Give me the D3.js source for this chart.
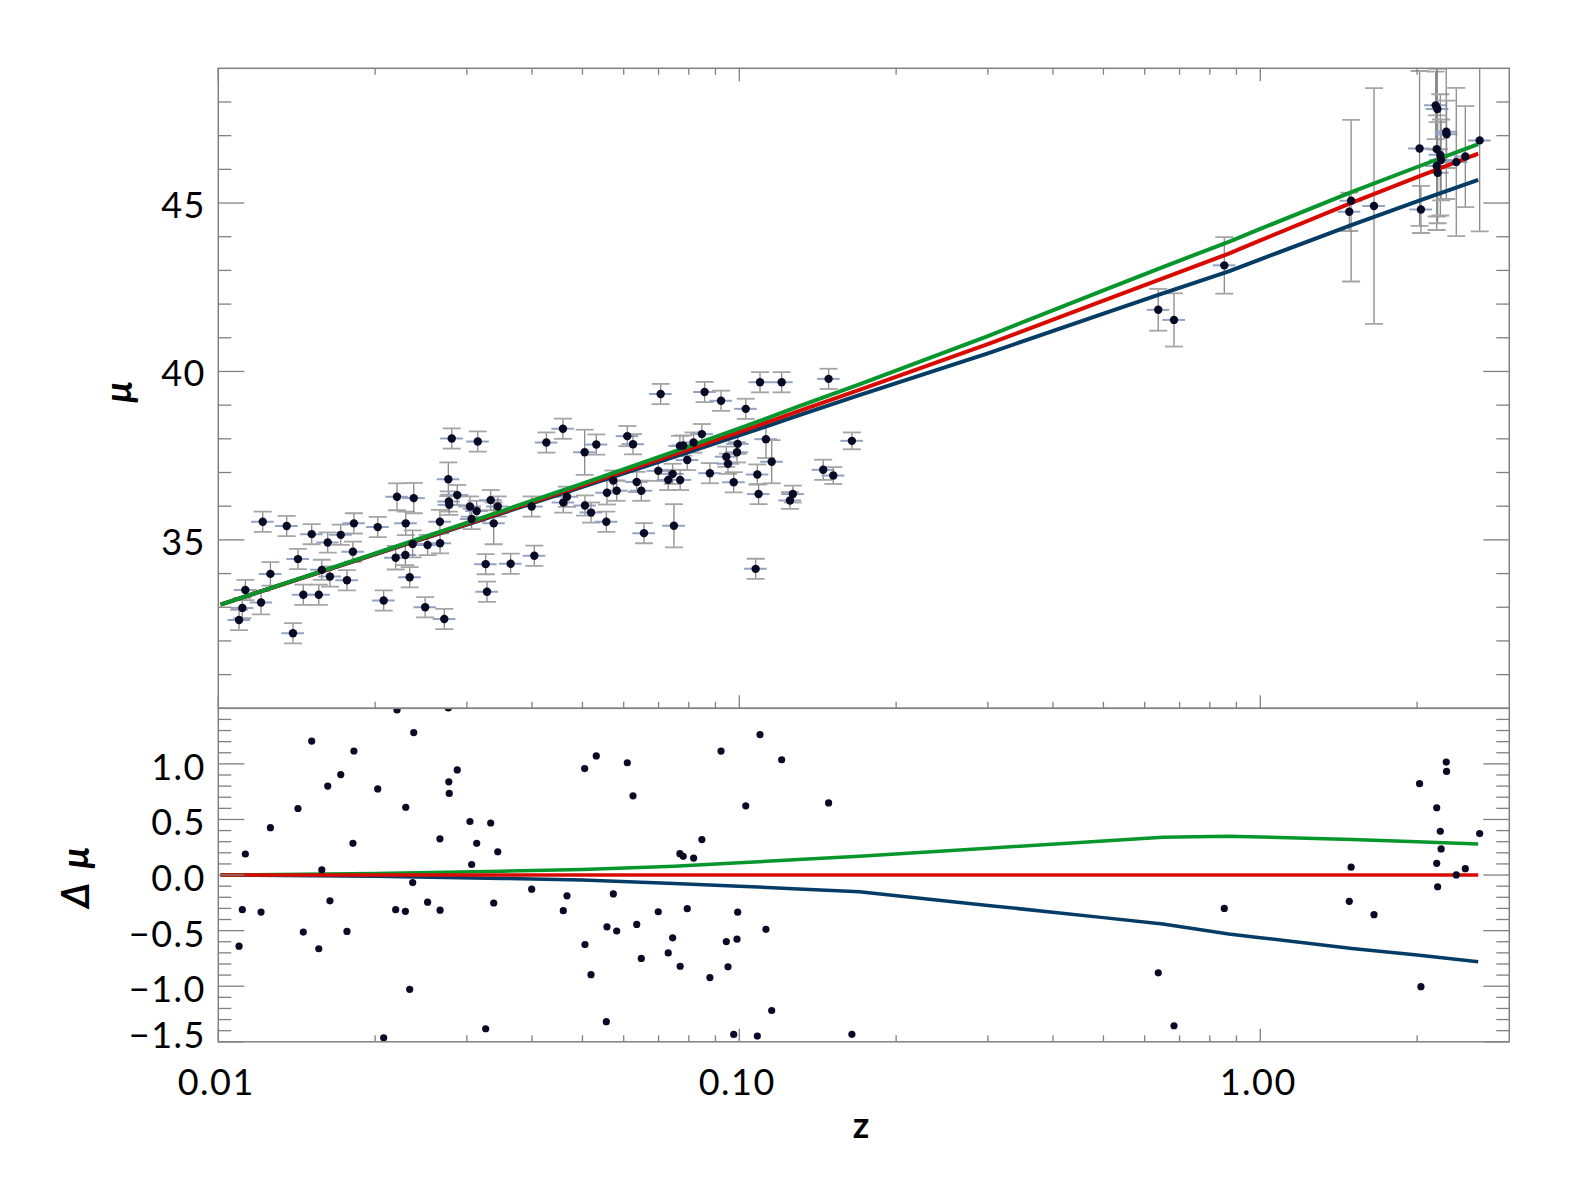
<!DOCTYPE html>
<html>
<head>
<meta charset="utf-8">
<script src="https://cdn.jsdelivr.net/npm/d3@7"></script>
<style>
body { margin: 0; background: #fff; }
svg { display: block; }
text { font-family: Lato, "DejaVu Sans", sans-serif; fill: #000; }
</style>
</head>
<body>
<div id="chart"></div>
<script>
var zObs = [0.01096, 0.01112, 0.01127, 0.01208, 0.01217, 0.01259, 0.01353, 0.01391, 0.01422, 0.01456,
  0.01511, 0.01559, 0.01580, 0.01622, 0.01638, 0.01718, 0.01766, 0.01813, 0.01821, 0.02023,
  0.02077, 0.02190, 0.02203, 0.02286, 0.02290, 0.02330, 0.02361, 0.02372, 0.02495, 0.02522,
  0.02663, 0.02665, 0.02715, 0.02764, 0.02770, 0.02775, 0.02806, 0.02875, 0.03041, 0.03064,
  0.03133, 0.03148, 0.03260, 0.03279, 0.03333, 0.03378, 0.03439, 0.03640, 0.03995, 0.04042,
  0.04263, 0.04587, 0.04594, 0.04670, 0.05049, 0.05056, 0.05193, 0.05315, 0.05556, 0.05572,
  0.05731, 0.05817, 0.06096, 0.06252, 0.06355, 0.06485, 0.06563, 0.06990, 0.07064, 0.07305,
  0.07449, 0.07492, 0.07692, 0.07700, 0.07805, 0.07945, 0.08172, 0.08476, 0.08578, 0.08782,
  0.09225, 0.09442, 0.09513, 0.09757, 0.09899, 0.09929, 0.1029, 0.1075, 0.1083, 0.1089,
  0.1096, 0.1125, 0.1154, 0.1206, 0.1251, 0.1267, 0.1449, 0.1484, 0.1515, 0.1645,
  0.637, 0.683, 0.853, 1.482, 1.494, 1.653, 2.022, 2.034, 2.171, 2.181,
  2.181, 2.187, 2.190, 2.216, 2.224, 2.275, 2.278, 2.378, 2.475, 2.637];
var muObs = [32.62, 32.98, 33.51, 33.14, 35.54, 33.99, 35.41, 32.23, 34.43, 33.37,
  35.17, 33.37, 34.11, 34.92, 33.91, 35.15, 33.80, 34.65, 35.49, 35.38,
  33.20, 34.47, 36.28, 34.55, 35.49, 33.89, 34.88, 36.24, 33.00, 34.85,
  35.54, 34.90, 32.65, 36.80, 36.14, 36.04, 38.01, 36.33, 35.99, 35.62,
  35.86, 37.92, 34.28, 33.46, 36.18, 35.49, 35.99, 34.29, 35.99, 34.53,
  37.89, 38.30, 36.11, 36.28, 37.60, 36.02, 35.81, 37.83, 35.54, 36.40,
  36.76, 36.46, 38.08, 37.84, 36.72, 36.46, 35.20, 37.05, 39.33, 36.78,
  36.96, 35.42, 37.79, 36.78, 37.80, 37.37, 37.89, 38.14, 39.39, 36.98,
  39.13, 37.47, 37.26, 36.71, 37.60, 37.85, 38.89, 34.14, 36.94, 36.36,
  39.68, 37.99, 37.32, 39.68, 36.17, 36.36, 37.08, 39.78, 36.91, 37.94,
  41.83, 41.53, 43.15, 44.74, 45.07, 44.91, 46.62, 44.81, 47.90, 46.60,
  46.10, 47.79, 45.90, 46.43, 46.28, 47.12, 47.04, 46.22, 46.38, 46.86];
var muErr = [0.3, 0.3, 0.3, 0.35, 0.3, 0.35, 0.3, 0.3, 0.3, 0.3,
  0.3, 0.3, 0.3, 0.3, 0.3, 0.3, 0.3, 0.3, 0.3, 0.3,
  0.3, 0.35, 0.4, 0.3, 0.35, 0.3, 0.4, 0.45, 0.3, 0.3,
  0.35, 0.3, 0.3, 0.5, 0.3, 0.3, 0.3, 0.3, 0.3, 0.3,
  0.3, 0.3, 0.3, 0.3, 0.3, 0.62, 0.3, 0.3, 0.3, 0.3,
  0.3, 0.3, 0.3, 0.3, 0.67, 0.3, 0.3, 0.3, 0.3, 0.35,
  0.3, 0.3, 0.3, 0.3, 0.3, 0.3, 0.3, 0.3, 0.3, 0.3,
  0.3, 0.64, 0.3, 0.3, 0.3, 0.3, 0.3, 0.3, 0.3, 0.3,
  0.3, 0.3, 0.3, 0.3, 0.3, 0.3, 0.3, 0.3, 0.3, 0.3,
  0.3, 0.56, 0.64, 0.3, 0.25, 0.25, 0.3, 0.3, 0.25, 0.25,
  0.62, 0.79, 0.84, 0.57, 2.4, 3.5, 2.3, 0.7, 1.0, 2.4,
  1.5, 1.2, 1.5, 1.8, 1.2, 2.0, 1.0, 2.2, 1.5, 2.7];
var zErrFrac = 0.05;   // horizontal bars, relative error in z

// model curves (red = reference model, green / blue given as offsets from red)
var zModel = [0.0101, 0.02, 0.035, 0.05, 0.075, 0.1, 0.13, 0.17, 0.3, 0.5, 0.65, 0.87, 1.0, 1.5, 2.0, 2.62];
var muRed = [33.08, 34.58, 35.82, 36.62, 37.54, 38.20, 38.82, 39.45, 40.81, 42.10, 42.76, 43.50, 43.89, 45.01, 45.77, 46.47];
var dMuGreen = [0.0, 0.015, 0.035, 0.05, 0.08, 0.11, 0.14, 0.17, 0.242, 0.307, 0.34, 0.35, 0.342, 0.32, 0.30, 0.28];
var dMuBlue = [0.0, -0.01, -0.03, -0.045, -0.075, -0.10, -0.125, -0.15, -0.273, -0.383, -0.44, -0.53, -0.563, -0.66, -0.72, -0.78];

var xMajor = [0.01, 0.1, 1];
var xLabels = ["0.01", "0.10", "1.00"];
var muMajor = [35, 40, 45];
var dMuMajor = [1.0, 0.5, 0.0, -0.5, -1.0, -1.5];
var dMuLabels = ["1.0", "0.5", "0.0", "\u22120.5", "\u22121.0", "\u22121.5"];

var W = 1574, H = 1181;
var left = 218.3, right = 1509.3, top1 = 68.3, mid = 708.3, bot = 1041.8;
var frameCol = "#808080";
var colGreen = "#07962c", colRed = "#d80a00", colBlue = "#053c66";

var svg = d3.select("#chart").append("svg").attr("width", W).attr("height", H);

var x = d3.scaleLog().domain([0.01, 3.006]).range([left, right]);
var y1 = d3.scaleLinear().domain([30, 49]).range([mid, top1]);
var y2 = d3.scaleLinear().domain([-1.5, 1.5]).range([bot, mid]);
var redAt = d3.scaleLog().domain(zModel).range(muRed);

var defs = svg.append("defs");
defs.append("clipPath").attr("id", "clipTop").append("rect")
  .attr("x", left).attr("y", top1).attr("width", right - left).attr("height", mid - top1);
defs.append("clipPath").attr("id", "clipBot").append("rect")
  .attr("x", left).attr("y", mid).attr("width", right - left).attr("height", bot - mid);

var obs = zObs.map(function(z, i) { return {z: z, mu: muObs[i], err: muErr[i], res: muObs[i] - redAt(z)}; });
var model = zModel.map(function(z, i) {
  return {z: z, red: muRed[i], green: muRed[i] + dMuGreen[i], blue: muRed[i] + dMuBlue[i], dg: dMuGreen[i], db: dMuBlue[i]};
});

// ---------- top panel ----------
var gTop = svg.append("g").attr("clip-path", "url(#clipTop)");

var eb = gTop.append("g").selectAll("g").data(obs).enter().append("g");
eb.append("line")
  .attr("x1", function(d) { return x(d.z * (1 - zErrFrac)); })
  .attr("x2", function(d) { return x(d.z * (1 + zErrFrac)); })
  .attr("y1", function(d) { return y1(d.mu); }).attr("y2", function(d) { return y1(d.mu); })
  .style("stroke", "#93a3c2").style("stroke-width", 2);
eb.append("line")
  .attr("x1", function(d) { return x(d.z); }).attr("x2", function(d) { return x(d.z); })
  .attr("y1", function(d) { return y1(d.mu - d.err); }).attr("y2", function(d) { return y1(d.mu + d.err); })
  .style("stroke", "#8a8a8a").style("stroke-width", 1.3);
[-1, 1].forEach(function(s) {
  eb.append("line")
    .attr("x1", function(d) { return x(d.z) - 9; }).attr("x2", function(d) { return x(d.z) + 9; })
    .attr("y1", function(d) { return y1(d.mu + s * d.err); }).attr("y2", function(d) { return y1(d.mu + s * d.err); })
    .style("stroke", "#a5a5a5").style("stroke-width", 1.8);
});

[["blue", colBlue], ["red", colRed], ["green", colGreen]].forEach(function(c) {
  gTop.append("path").datum(model)
    .attr("d", d3.line().x(function(d) { return x(d.z); }).y(function(d) { return y1(d[c[0]]); }))
    .style("fill", "none").style("stroke", c[1]).style("stroke-width", 4);
});

gTop.append("g").selectAll("circle").data(obs).enter().append("circle")
  .attr("cx", function(d) { return x(d.z); }).attr("cy", function(d) { return y1(d.mu); })
  .attr("r", 4.2).style("fill", "#0a0a26");

// ---------- bottom panel ----------
var gBot = svg.append("g").attr("clip-path", "url(#clipBot)");
gBot.append("path").datum(model)
  .attr("d", d3.line().x(function(d) { return x(d.z); }).y(function(d) { return y2(d.db); }))
  .style("fill", "none").style("stroke", colBlue).style("stroke-width", 3.5);
gBot.append("path").datum(model)
  .attr("d", d3.line().x(function(d) { return x(d.z); }).y(function(d) { return y2(d.dg); }))
  .style("fill", "none").style("stroke", colGreen).style("stroke-width", 3.5);
gBot.append("path").datum(model)
  .attr("d", d3.line().x(function(d) { return x(d.z); }).y(function() { return y2(0); }))
  .style("fill", "none").style("stroke", colRed).style("stroke-width", 3.5);
gBot.append("g").selectAll("circle").data(obs.filter(function(d) { return Math.abs(d.res) <= 1.55; }))
  .enter().append("circle")
  .attr("cx", function(d) { return x(d.z); }).attr("cy", function(d) { return y2(d.res); })
  .attr("r", 3.6).style("fill", "#0a0a26");

// ---------- axes ----------
var xMinor = [];
xMajor.forEach(function(k) { for (var m = 2; m <= 9; m++) if (k * m < 3.0) xMinor.push(k * m); });

function xTicks(y0, dir) {
  var g = svg.append("g").style("stroke", frameCol).style("stroke-width", 1.3);
  g.selectAll(".mn").data(xMinor).enter().append("line")
    .attr("x1", function(d) { return x(d); }).attr("x2", function(d) { return x(d); })
    .attr("y1", y0).attr("y2", y0 + dir * 6.5);
  g.selectAll(".mj").data(xMajor).enter().append("line")
    .attr("x1", function(d) { return x(d); }).attr("x2", function(d) { return x(d); })
    .attr("y1", y0).attr("y2", y0 + dir * 13);
}
xTicks(top1, 1);
xTicks(mid, -1);
xTicks(bot, -1);

function yTicks(scale, minor, major) {
  var g = svg.append("g").style("stroke", frameCol).style("stroke-width", 1.3);
  [[left, 1], [right, -1]].forEach(function(side) {
    g.append("g").selectAll("line").data(minor).enter().append("line")
      .attr("x1", side[0]).attr("x2", side[0] + side[1] * 13)
      .attr("y1", function(d) { return scale(d); }).attr("y2", function(d) { return scale(d); });
    g.append("g").selectAll("line").data(major).enter().append("line")
      .attr("x1", side[0]).attr("x2", side[0] + side[1] * 26)
      .attr("y1", function(d) { return scale(d); }).attr("y2", function(d) { return scale(d); });
  });
}
yTicks(y1, d3.range(31, 49).filter(function(v) { return muMajor.indexOf(v) < 0; }), muMajor);
yTicks(y2, d3.range(-14, 15).map(function(v) { return v / 10; })
  .filter(function(v) { return Math.abs(v * 2 - Math.round(v * 2)) > 1e-6; }), dMuMajor);

svg.append("rect").attr("x", left).attr("y", top1).attr("width", right - left).attr("height", mid - top1)
  .style("fill", "none").style("stroke", frameCol).style("stroke-width", 1.5);
svg.append("rect").attr("x", left).attr("y", mid).attr("width", right - left).attr("height", bot - mid)
  .style("fill", "none").style("stroke", frameCol).style("stroke-width", 1.5);

// tick labels
var labelStyle = function(sel) { sel.style("font-size", "36px").style("letter-spacing", "1.5px"); };
svg.append("g").selectAll("text").data(xMajor).enter().append("text")
  .attr("x", function(d) { return x(d) - 2; }).attr("y", 1095)
  .attr("text-anchor", "middle").call(labelStyle)
  .text(function(d, i) { return xLabels[i]; });
svg.append("g").selectAll("text").data(muMajor).enter().append("text")
  .attr("x", 206).attr("y", function(d) { return y1(d) + 15; })
  .attr("text-anchor", "end").call(labelStyle)
  .text(function(d) { return d; });
svg.append("g").selectAll("text").data(dMuMajor).enter().append("text")
  .attr("x", 206).attr("y", function(d) { return y2(d) + 16 - (d === -1.5 ? 10 : 0); })
  .attr("text-anchor", "end").call(labelStyle)
  .text(function(d, i) { return dMuLabels[i]; });

// axis titles
svg.append("text").attr("x", 861).attr("y", 1138).attr("text-anchor", "middle")
  .style("font-size", "36px").style("font-weight", "bold").text("z");
svg.append("text").attr("transform", "translate(132,392) rotate(-90)").attr("text-anchor", "middle")
  .style("font-size", "38px").style("font-weight", "bold").style("font-style", "italic").text("\u03bc");
svg.append("text").attr("transform", "translate(89,876) rotate(-90)").attr("text-anchor", "middle")
  .style("font-size", "38px").style("font-weight", "bold").style("font-style", "italic").style("letter-spacing", "3px")
  .text("\u0394 \u03bc");
</script>
</body>
</html>
